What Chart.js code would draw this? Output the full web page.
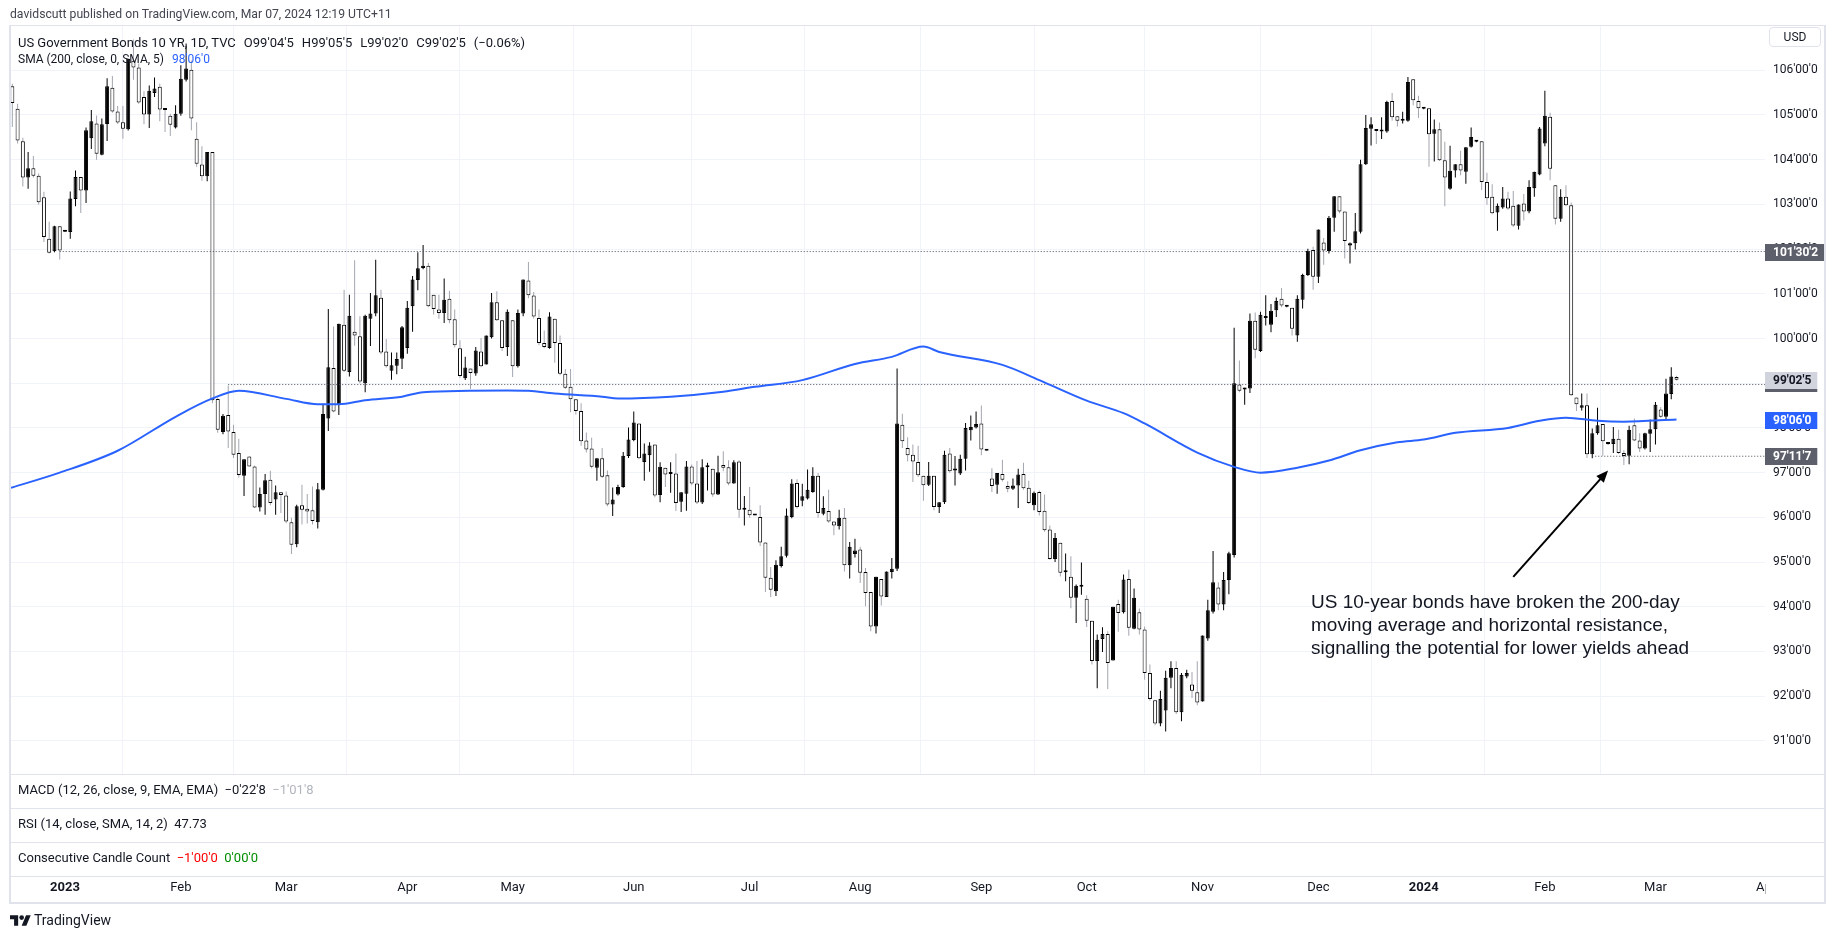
<!DOCTYPE html>
<html>
<head>
<meta charset="utf-8">
<script src="https://cdn.jsdelivr.net/npm/chart.js@4.4.1/dist/chart.umd.min.js"></script>
<style>
html, body { margin: 0; padding: 0; background: #fff; }
body { width: 1835px; height: 939px; position: relative; overflow: hidden; font-family: Roboto, "Noto Sans", sans-serif; color: #131722; }
#chart { position: absolute; left: 0; top: 0; }
.abs { position: absolute; white-space: nowrap; }
.legend { font-size: 13px; line-height: 16px; }
.legend .g { margin-left: 8px; }
.pane { font-size: 13px; line-height: 16px; }
.sep { position: absolute; left: 10px; width: 1815px; height: 1px; background: #e0e3eb; }
</style>
</head>
<body>
<canvas id="chart" width="1835" height="939"></canvas>

<div class="abs" style="left:10px;top:7px;font-size:12.2px;color:#434651;">davidscutt published on TradingView.com, Mar 07, 2024 12:19 UTC+11</div>
<div style="position:absolute;left:9px;top:25px;width:1817px;height:879px;border:2px solid #e0e3eb;border-top-width:1px;box-sizing:border-box;"></div>

<div class="abs legend" style="left:18px;top:35px;">US Government Bonds 10 YR, 1D, TVC<span class="g">O99'04'5</span><span class="g">H99'05'5</span><span class="g">L99'02'0</span><span class="g">C99'02'5</span><span class="g">(−0.06%)</span></div>
<div class="abs legend" style="left:18px;top:51px;font-size:12px;">SMA (200, close, 0, SMA, 5)<span class="g" style="color:#2962ff">98'06'0</span></div>

<div class="sep" style="top:774px;"></div>
<div class="sep" style="top:808px;"></div>
<div class="sep" style="top:842px;"></div>
<div class="sep" style="top:876px;"></div>
<div class="abs pane" style="left:18px;top:782px;">MACD (12, 26, close, 9, EMA, EMA)&nbsp;&nbsp;−0'22'8&nbsp;&nbsp;<span style="color:#b2b5be">−1'01'8</span></div>
<div class="abs pane" style="left:18px;top:816px;">RSI (14, close, SMA, 14, 2)&nbsp;&nbsp;47.73</div>
<div class="abs pane" style="left:18px;top:850px;">Consecutive Candle Count&nbsp;&nbsp;<span style="color:#ff0000">−1'00'0</span>&nbsp;&nbsp;<span style="color:#008c00">0'00'0</span></div>

<div class="abs" style="left:1769px;top:27px;width:50px;height:18px;border:1px solid #e0e3eb;border-radius:4px;font-size:12px;line-height:18px;text-align:center;">USD</div>

<div class="abs" style="left:1311px;top:590px;font-family:'Liberation Sans',Arial,sans-serif;font-size:19px;line-height:23px;color:#131722;">US 10-year bonds have broken the 200-day<br>moving average and horizontal resistance,<br>signalling the potential for lower yields ahead</div>

<div class="abs" style="left:10px;top:912px;display:flex;align-items:center;">
  <svg width="21" height="11" viewBox="0 4 36 18"><path d="M14 22H7V11H0V4h14v18zM28 22h-8l7.5-18h8L28 22z" fill="#131722"/><circle cx="20" cy="8" r="4" fill="#131722"/></svg>
  <span style="font-size:14px;margin-left:3px;color:#131722;">TradingView</span>
</div>

<script>
// daily candles, mid Dec 2022 .. Mar 7 2024 (prices in points)
const opens = [
  105.64,105.14,104.41,103.60,103.81,103.64,103.16,102.23,101.95,102.51,
  102.39,102.38,103.12,103.61,103.31,104.48,104.81,104.11,104.80,105.61,
  105.08,104.84,104.68,106.21,106.06,105.40,105.01,105.49,105.63,105.12,
  104.98,104.72,105.03,105.79,106.01,104.47,103.89,103.63,104.17,98.65,
  97.91,98.29,97.91,97.44,96.93,97.36,97.14,96.22,96.52,96.84,
  96.40,96.56,96.49,95.89,95.40,96.27,96.19,96.16,95.89,96.62,
  98.21,99.34,98.52,100.31,99.25,100.15,100.05,99.00,100.44,100.56,
  100.91,99.71,99.28,99.39,99.55,99.79,100.72,101.31,101.58,101.63,
  100.98,100.65,100.57,100.89,100.43,99.78,99.11,99.33,99.22,99.71,
  99.42,100.03,100.81,100.41,99.81,100.41,99.38,100.56,101.30,100.96,
  100.46,99.90,99.79,100.44,99.90,99.21,98.92,98.64,98.38,97.72,
  97.54,97.11,97.32,96.94,96.29,96.51,96.68,97.37,97.73,98.10,
  97.24,97.39,97.63,96.50,97.11,96.97,96.98,96.35,96.53,97.14,
  96.76,96.33,97.12,97.09,96.51,97.17,97.12,96.76,97.25,96.17,
  96.17,96.05,96.01,95.44,94.65,94.35,94.91,95.14,96.01,96.77,
  96.37,96.42,96.57,96.93,96.08,96.14,95.91,95.80,95.99,94.93,
  95.18,95.28,94.78,94.33,93.56,94.62,94.22,94.78,94.85,98.07,
  97.55,97.40,97.24,96.93,96.73,96.93,96.23,96.34,97.43,97.05,
  96.98,97.31,97.95,98.01,98.10,97.50,96.87,96.73,96.97,96.70,
  96.64,96.71,96.97,96.66,96.27,96.57,96.15,95.73,95.07,95.43,
  94.77,94.67,94.20,94.45,94.18,93.69,92.79,93.28,93.39,92.80,
  94.06,93.88,94.62,93.51,93.88,93.49,92.52,91.91,91.39,91.68,
  92.41,92.63,91.64,92.44,92.26,92.09,91.88,93.29,93.89,94.43,
  94.05,94.60,95.16,98.97,98.86,98.88,100.40,99.72,100.46,100.31,
  100.63,100.89,100.71,100.69,100.07,100.87,101.42,101.98,101.38,102.15,
  101.96,102.70,103.18,102.84,102.08,102.13,102.39,103.90,104.69,104.65,
  104.63,104.63,105.31,104.97,104.87,104.87,105.80,105.31,105.14,105.15,
  104.58,104.68,103.99,103.35,103.76,103.90,103.73,104.29,104.40,104.41,
  103.50,103.17,102.82,102.93,103.13,102.97,102.52,103.02,102.84,103.36,
  103.67,104.36,104.96,103.43,102.68,103.17,102.98,98.68,98.45,98.51,
  97.41,97.88,98.09,97.64,97.64,97.76,97.44,97.38,98.06,97.72,
  97.54,97.87,97.97,98.41,98.25,98.76,99.14
];
const highs = [
  105.70,105.25,104.49,104.17,104.08,103.69,103.28,102.61,102.52,102.51,
  102.41,103.29,103.76,103.61,104.72,105.11,104.99,104.92,105.82,105.87,
  105.20,105.20,106.26,106.69,106.15,105.53,105.66,105.84,105.70,105.12,
  105.03,105.22,106.11,106.60,106.22,104.84,104.30,104.17,104.17,98.68,
  98.31,98.95,98.07,97.76,97.30,97.36,97.16,96.67,96.97,97.04,
  96.71,96.56,96.58,95.99,96.28,96.73,96.52,96.69,96.77,98.54,
  100.66,100.27,100.33,101.09,100.98,101.75,100.50,100.53,101.02,101.76,
  101.09,99.99,99.69,99.69,100.28,100.84,101.40,101.93,102.09,101.69,
  100.98,100.98,101.34,101.07,100.65,99.96,99.59,99.33,99.81,100.01,
  100.07,101.02,101.06,100.41,100.65,100.41,100.65,101.32,101.71,101.04,
  100.65,100.18,100.59,100.44,100.07,99.32,99.32,98.64,98.55,97.90,
  97.78,97.32,97.55,97.05,96.67,96.73,97.46,98.01,98.37,98.10,
  97.65,97.68,97.63,97.23,97.11,97.23,97.43,96.56,97.26,97.18,
  97.26,97.30,97.22,97.09,97.38,97.48,97.28,97.28,97.28,96.48,
  96.68,96.06,96.27,95.44,94.89,95.04,95.34,96.20,96.85,96.85,
  96.75,97.07,97.12,96.99,96.47,96.62,95.91,96.17,96.21,95.45,
  95.52,95.34,94.87,94.33,94.67,94.62,94.79,95.09,99.33,98.32,
  97.79,97.63,97.60,96.93,97.24,96.93,96.34,97.49,97.55,97.37,
  97.40,98.11,98.28,98.37,98.50,97.50,97.10,96.99,97.29,96.81,
  96.87,97.09,97.22,96.82,96.58,96.60,96.51,95.82,95.65,95.43,
  95.19,95.13,94.50,94.99,94.26,93.69,93.38,93.54,93.45,94.00,
  94.16,94.72,94.83,94.41,93.96,93.56,92.71,91.91,92.12,92.57,
  92.78,92.78,92.52,92.59,92.54,92.78,93.36,94.16,95.25,94.55,
  94.78,95.23,100.24,99.51,98.90,100.56,100.58,100.60,100.97,100.77,
  100.92,101.13,100.75,100.69,100.97,101.45,102.01,102.05,102.44,102.25,
  102.74,103.18,103.18,102.84,102.15,102.81,104.00,105.00,104.95,104.65,
  104.95,105.32,105.49,104.97,105.07,105.85,105.80,105.43,105.17,105.15,
  104.90,104.83,104.40,104.31,103.90,104.20,104.28,104.72,104.43,104.41,
  103.71,103.45,103.02,103.39,103.28,103.30,103.00,103.23,103.54,103.73,
  104.73,105.54,105.05,103.43,103.34,103.43,103.04,98.68,98.77,98.77,
  97.99,98.45,98.09,97.66,98.02,97.96,97.50,98.05,98.21,97.88,
  97.89,98.19,98.58,98.47,99.10,99.36,99.17
];
const lows = [
  104.73,104.36,103.40,103.35,103.60,103.00,102.16,101.90,101.93,101.77,
  102.38,102.23,102.96,102.81,103.03,104.24,104.00,104.10,104.42,105.05,
  104.80,104.47,104.65,105.79,105.25,104.79,104.71,105.40,104.86,104.62,
  104.53,104.70,104.98,105.75,104.66,103.84,103.53,103.52,98.55,97.89,
  97.86,97.55,97.33,96.89,96.48,97.14,96.21,96.13,96.06,96.27,
  96.06,96.10,95.87,95.18,95.33,95.84,95.86,95.84,95.75,96.60,
  97.93,98.35,98.29,99.25,99.15,99.84,99.00,98.80,99.83,100.50,
  99.65,99.35,99.08,99.20,99.32,99.66,100.15,101.08,101.55,100.70,
  100.54,100.44,100.35,100.34,99.80,99.12,99.07,98.87,99.17,99.36,
  99.42,100.00,100.39,99.72,99.61,99.14,99.35,100.50,100.90,100.45,
  99.85,99.78,99.77,99.46,99.18,98.87,98.35,98.30,97.60,97.45,
  97.10,96.82,96.88,96.25,96.03,96.49,96.66,97.33,97.70,97.30,
  96.82,97.02,96.45,96.34,96.68,96.55,96.14,96.12,96.15,96.72,
  96.30,96.30,96.60,96.46,96.50,97.03,96.72,96.75,95.99,95.82,
  95.99,96.04,95.36,94.33,94.22,94.24,94.88,95.10,95.98,96.20,
  96.25,96.40,96.55,95.99,96.05,95.88,95.60,95.73,94.79,94.63,
  95.10,94.53,94.01,93.45,93.40,94.03,94.22,94.63,94.80,97.55,
  97.25,96.79,96.90,96.37,96.70,96.16,96.10,96.30,97.00,96.71,
  96.95,97.05,97.72,97.99,97.39,97.48,96.57,96.53,96.80,96.56,
  96.61,96.21,96.62,96.30,96.16,96.04,95.68,95.05,95.00,94.68,
  94.57,93.97,93.64,94.27,93.55,92.71,92.18,92.99,92.16,92.80,
  93.44,93.85,93.35,93.50,93.38,92.37,91.90,91.35,91.33,91.21,
  92.18,91.60,91.44,92.40,91.96,91.80,91.88,93.24,93.85,93.92,
  93.92,94.28,95.10,98.80,98.52,98.78,99.56,99.70,100.29,100.14,
  100.48,100.70,100.70,100.07,99.93,100.67,101.40,101.09,101.24,101.65,
  101.90,102.39,102.80,101.79,101.68,101.99,102.35,103.88,104.32,104.35,
  104.46,104.60,104.87,104.74,104.81,104.85,105.22,104.93,105.13,103.84,
  103.96,103.97,102.96,103.33,103.60,103.65,103.46,104.27,104.39,103.32,
  102.99,102.78,102.41,102.90,102.88,102.50,102.44,102.64,102.80,103.17,
  103.65,104.30,103.54,102.55,102.61,102.96,98.72,98.38,98.39,97.33,
  97.32,97.85,97.38,97.63,97.44,97.42,97.17,97.19,97.70,97.46,
  97.52,97.46,97.63,98.23,98.20,98.64,99.06
];
const closes = [
  105.27,104.43,103.60,103.81,103.64,103.05,102.27,101.92,102.51,101.97,
  102.40,103.13,103.61,103.31,104.66,104.86,104.13,104.79,105.64,105.08,
  104.83,104.69,106.26,106.06,105.28,105.01,105.54,105.59,105.12,105.11,
  104.78,105.03,105.81,106.04,104.92,103.91,103.63,104.17,98.62,97.96,
  98.27,97.92,97.40,96.95,97.30,97.14,96.22,96.52,96.83,96.32,
  96.56,96.50,95.91,95.39,96.25,96.17,96.13,95.92,96.63,98.31,
  99.36,98.37,100.33,99.28,100.51,100.07,99.04,100.51,100.56,100.97,
  99.69,99.38,99.40,99.54,100.25,100.69,101.32,101.57,101.63,100.72,
  100.66,100.57,100.87,100.41,99.85,99.16,99.35,99.23,99.73,99.38,
  100.07,100.81,100.41,99.79,100.60,99.38,100.57,101.32,100.97,100.49,
  99.90,99.81,100.49,99.90,99.21,98.90,98.64,98.38,97.70,97.52,
  97.13,97.32,96.91,96.29,96.40,96.68,97.38,97.74,98.12,97.32,
  97.43,97.61,96.49,97.13,96.96,96.98,96.32,96.56,97.14,96.76,
  96.33,97.12,97.13,96.51,97.01,97.11,96.76,97.23,96.17,96.18,
  96.05,96.04,95.44,94.65,94.38,94.94,95.13,96.04,96.76,96.23,
  96.47,96.62,96.93,96.10,96.21,95.91,95.82,95.99,94.93,95.34,
  95.26,94.76,94.31,93.56,94.67,94.23,94.79,94.85,98.10,97.70,
  97.39,97.25,96.94,96.72,96.93,96.23,96.34,97.40,97.03,97.07,
  97.31,98.00,98.02,98.09,97.52,97.49,96.70,96.99,96.84,96.64,
  96.71,96.96,96.65,96.32,96.55,96.12,95.71,95.07,95.54,94.76,
  94.79,94.20,94.47,94.47,93.69,92.79,93.26,93.39,92.74,94.00,
  93.86,94.61,93.53,94.20,93.49,92.52,91.94,91.39,91.94,92.41,
  92.63,91.64,92.48,92.52,92.12,91.86,93.36,93.92,94.55,94.05,
  94.60,95.20,99.00,98.83,98.88,100.40,99.75,100.53,100.48,100.62,
  100.84,100.74,100.73,100.22,100.89,101.42,101.96,101.38,102.44,101.97,
  102.70,103.18,102.84,102.18,102.13,102.40,103.90,104.71,104.79,104.64,
  104.64,105.29,104.95,104.87,104.88,105.74,105.33,105.15,105.16,104.57,
  104.68,103.99,103.60,103.75,103.90,103.76,104.28,104.51,104.42,103.50,
  103.14,102.80,102.97,103.13,102.91,102.53,103.00,102.84,103.39,103.73,
  104.70,104.98,103.80,102.68,103.17,102.98,98.73,98.53,98.51,97.41,
  97.88,98.06,97.70,97.65,97.76,97.44,97.37,97.96,97.72,97.54,
  97.88,97.97,98.52,98.25,98.77,99.15,99.08
];

// 200-day SMA (bar index, value)
const smaIdx = [-0.25, 9, 20, 31, 38, 43, 52, 58, 62, 67, 74, 78, 94, 98, 103, 112, 115, 125, 135, 141, 150, 160, 167, 173, 176, 188, 195, 204, 211, 215, 225, 232, 237, 244, 250, 256, 263, 268, 274, 284, 290, 295, 301, 306, 316];
const smaVal = [96.66, 97.00, 97.49, 98.25, 98.66, 98.83, 98.65, 98.53, 98.53, 98.62, 98.70, 98.80, 98.84, 98.83, 98.77, 98.70, 98.66, 98.70, 98.81, 98.92, 99.07, 99.43, 99.59, 99.82, 99.70, 99.41, 99.07, 98.61, 98.33, 98.10, 97.45, 97.13, 97.00, 97.11, 97.27, 97.50, 97.68, 97.74, 97.89, 98.00, 98.16, 98.23, 98.16, 98.14, 98.19];

// horizontal lines drawn on the chart
const hLevels = [101.945, 98.97, 97.367];
const hStarts = [9, 41, 300];

// axis ticks
const monthIdx = [10, 32, 52, 75, 95, 118, 140, 161, 184, 204, 226, 248, 268, 291, 312, 333];
const monthLabels = ['2023', 'Feb', 'Mar', 'Apr', 'May', 'Jun', 'Jul', 'Aug', 'Sep', 'Oct', 'Nov', 'Dec', '2024', 'Feb', 'Mar', 'Apr'];
const priceTicks = [91, 92, 93, 94, 95, 96, 97, 98, 99, 100, 101, 102, 103, 104, 105, 106];

// price tags on the right axis
const tagValues = [101.945, 99.078, 98.1875, 97.367];
const tagTexts = ["101'30'2", "99'02'5", "98'06'0", "97'11'7"];

// annotation arrow (bar index, price)
const arrowFrom = [285, 94.67];
const arrowTo = [303, 97.05];

const X_MIN = -0.25, X_MAX = 332.8;

const up = closes.map((c, i) => c >= opens[i]);
const wickData = closes.map((c, i) => ({ x: i, y: [lows[i], highs[i]] }));
const bodyData = closes.map((c, i) => ({ x: i, y: [Math.min(opens[i], c), Math.max(opens[i], c)] }));

const overlay = {
    id: 'overlay',
    afterDraw(chart) {
        const ctx = chart.ctx;
        const xs = chart.scales.x, ys = chart.scales.y;
        const right = chart.chartArea.right;

        // hide the part of the last month label under the price scale
        ctx.save();
        ctx.fillStyle = '#fff';
        ctx.fillRect(right + 0.5, 877, 58, 25);

        // arrow
        const x1 = xs.getPixelForValue(arrowFrom[0]), y1 = ys.getPixelForValue(arrowFrom[1]);
        const x2 = xs.getPixelForValue(arrowTo[0]), y2 = ys.getPixelForValue(arrowTo[1]);
        const a = Math.atan2(y2 - y1, x2 - x1);
        ctx.strokeStyle = '#000';
        ctx.fillStyle = '#000';
        ctx.lineWidth = 2;
        ctx.beginPath();
        ctx.moveTo(x1, y1);
        ctx.lineTo(x2 - 8 * Math.cos(a), y2 - 8 * Math.sin(a));
        ctx.stroke();
        ctx.beginPath();
        ctx.moveTo(x2, y2);
        ctx.lineTo(x2 - 12 * Math.cos(a) + 5 * Math.sin(a), y2 - 12 * Math.sin(a) - 5 * Math.cos(a));
        ctx.lineTo(x2 - 12 * Math.cos(a) - 5 * Math.sin(a), y2 - 12 * Math.sin(a) + 5 * Math.cos(a));
        ctx.closePath();
        ctx.fill();

        // price tags
        const styles = [
            { bg: '#5d606b', fg: '#fff' },
            { bg: '#d1d4dc', fg: '#131722', band: '#5d606b' },
            { bg: '#2962ff', fg: '#fff' },
            { bg: '#5d606b', fg: '#fff' }
        ];
        ctx.font = 'bold 12px Roboto, "Noto Sans", sans-serif';
        ctx.textBaseline = 'middle';
        ctx.textAlign = 'left';
        tagValues.forEach((v, i) => {
            const py = Math.round(ys.getPixelForValue(v));
            const tw = ctx.measureText(tagTexts[i]).width;
            const st = styles[i];
            ctx.fillStyle = st.bg;
            ctx.fillRect(right, py - 8, tw + 14, 17);
            if (st.band) {
                ctx.fillStyle = st.band;
                ctx.fillRect(right, py + 9, tw + 14, 3);
            }
            ctx.fillStyle = st.fg;
            ctx.fillText(tagTexts[i], right + 8, py + 1);
        });
        ctx.restore();
    }
};

const hLineSets = hLevels.map((v, i) => ({
    type: 'line',
    data: [{ x: hStarts[i], y: v }, { x: X_MAX, y: v }],
    borderColor: '#4a4e5a',
    borderWidth: 1,
    borderDash: [1, 2],
    pointRadius: 0,
    order: 0
}));

new Chart(document.getElementById('chart').getContext('2d'), {
    type: 'bar',
    data: {
        datasets: [
            {
                type: 'line',
                label: 'SMA',
                data: smaIdx.map((x, i) => ({ x: x, y: smaVal[i] })),
                borderColor: '#2962ff',
                borderWidth: 2,
                pointRadius: 0,
                cubicInterpolationMode: 'monotone',
                order: 0
            },
            ...hLineSets,
            {
                label: 'body',
                data: bodyData,
                backgroundColor: up.map(u => u ? '#000' : '#fff'),
                borderColor: '#000',
                borderWidth: 1,
                borderSkipped: false,
                barThickness: 4,
                minBarLength: 2,
                grouped: false,
                inflateAmount: 0,
                order: 1
            },
            {
                label: 'wick',
                data: wickData,
                backgroundColor: up.map(u => u ? '#000' : '#a3a6af'),
                borderWidth: 0,
                barThickness: 1,
                grouped: false,
                inflateAmount: 0,
                order: 2
            }
        ]
    },
    options: {
        responsive: false,
        animation: false,
        layout: { padding: { left: 11, top: 26, right: 10, bottom: 36 } },
        plugins: { legend: { display: false }, tooltip: { enabled: false } },
        scales: {
            x: {
                type: 'linear',
                min: X_MIN,
                max: X_MAX,
                offset: false,
                afterFit(s) { s.height = 129; s.paddingLeft = 0; s.paddingRight = 0; },
                afterBuildTicks(s) { s.ticks = monthIdx.map(v => ({ value: v })); },
                ticks: {
                    autoSkip: false,
                    maxRotation: 0,
                    padding: 106,
                    color: '#131722',
                    font: c => {
                        const k = c.tick ? monthIdx.indexOf(c.tick.value) : -1;
                        const yr = k >= 0 && /^\d{4}$/.test(monthLabels[k]);
                        return { size: 13, weight: yr ? 'bold' : 'normal', family: 'Roboto, "Noto Sans", sans-serif' };
                    },
                    callback: v => {
                        const k = monthIdx.indexOf(v);
                        return k >= 0 ? monthLabels[k] : '';
                    }
                },
                grid: {
                    color: c => (c.tick && c.tick.value > X_MAX) ? 'rgba(0,0,0,0)' : '#f0f3fa',
                    drawTicks: false
                },
                border: { display: false }
            },
            y: {
                position: 'right',
                min: 90.26,
                max: 106.99,
                afterFit(s) { s.width = 60; },
                afterBuildTicks(s) { s.ticks = priceTicks.map(v => ({ value: v })); },
                ticks: {
                    padding: 8,
                    color: '#131722',
                    font: { size: 12, family: 'Roboto, "Noto Sans", sans-serif' },
                    callback: v => v + "'00'0"
                },
                grid: { color: '#f0f3fa', drawTicks: false },
                border: { display: false }
            }
        }
    },
    plugins: [overlay]
});
</script>
</body>
</html>
